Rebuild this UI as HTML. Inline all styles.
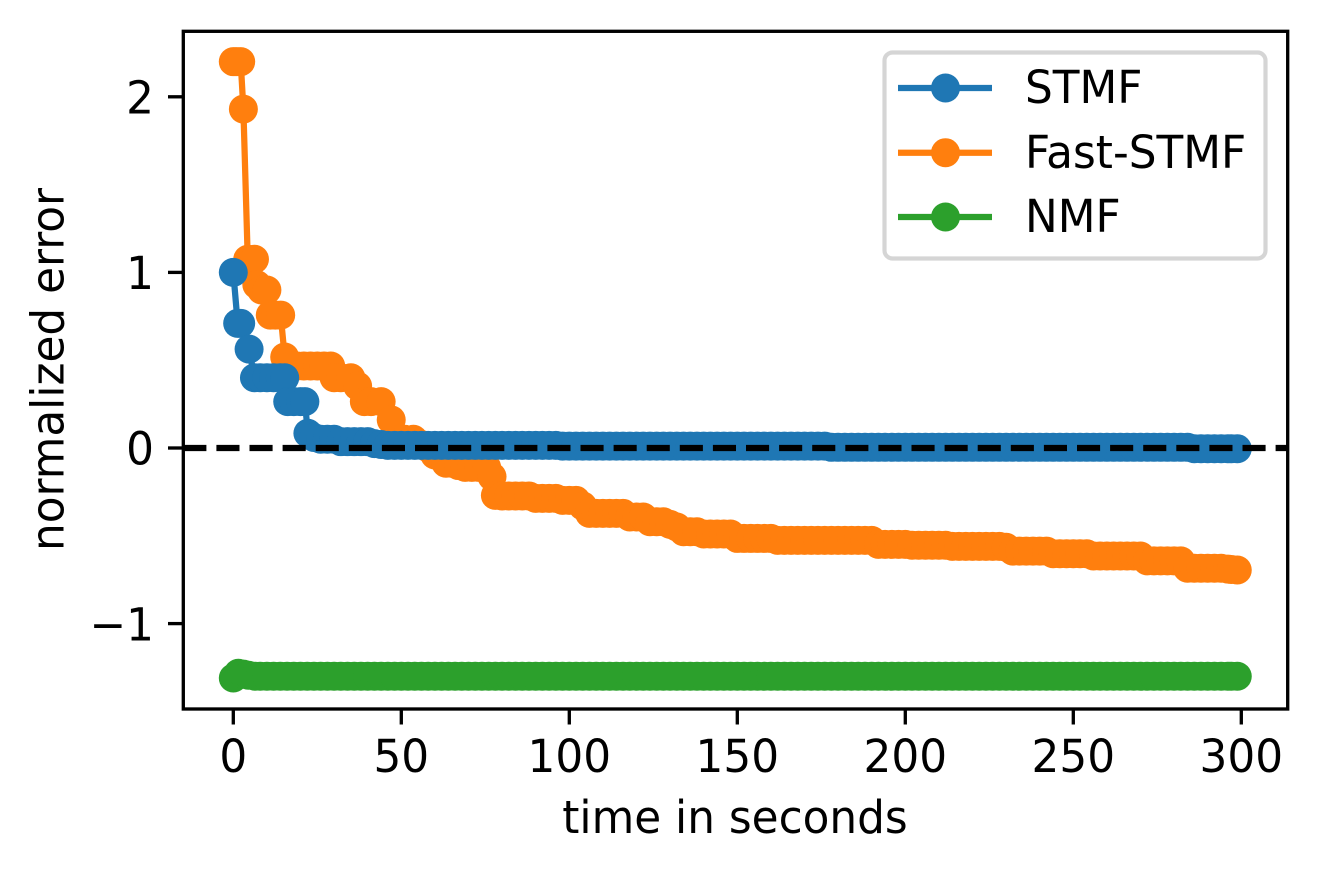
<!DOCTYPE html>
<html>
<head>
<meta charset="utf-8">
<title>Normalized error over time</title>
<style>
html,body{margin:0;padding:0;background:#fff;}
svg{display:block;}
text{font-family:"DejaVu Sans","Liberation Sans",sans-serif;font-size:45.83px;fill:#000;}
</style>
</head>
<body>
<svg id="chart" xmlns="http://www.w3.org/2000/svg" width="1317" height="871" viewBox="0 0 1317 871">
  <rect x="0" y="0" width="1317" height="871" fill="#ffffff"/>
  <g id="series-layer"></g>
  <line id="zero-line" stroke="#000" stroke-width="6.25" stroke-dasharray="23.1 10"/>
  <g id="ticks-layer"></g>
  <rect x="183.3" y="31.3" width="1104.4" height="677.7" fill="none" stroke="#000" stroke-width="3.33"/>
  <text x="735" y="833" text-anchor="middle">time in seconds</text>
  <text transform="translate(63.3 369.5) rotate(-90)" text-anchor="middle">normalized error</text>
  <g>
    <rect x="884.5" y="52.5" width="381" height="206" rx="8" ry="8" fill="#fff" fill-opacity="0.8" stroke="#d5d5d5" stroke-width="4.17"/>
    <g>
      <line x1="898" x2="992" y1="88" y2="88" stroke="#1f77b4" stroke-width="6.25"/>
      <circle cx="945.5" cy="88" r="14.5" fill="#1f77b4"/>
      <text x="1025" y="103">STMF</text>
    </g>
    <g>
      <line x1="898" x2="992" y1="152.7" y2="152.7" stroke="#ff7f0e" stroke-width="6.25"/>
      <circle cx="945.5" cy="152.7" r="14.5" fill="#ff7f0e"/>
      <text x="1025" y="168">Fast-STMF</text>
    </g>
    <g>
      <line x1="898" x2="992" y1="217" y2="217" stroke="#2ca02c" stroke-width="6.25"/>
      <circle cx="945.5" cy="217" r="14.5" fill="#2ca02c"/>
      <text x="1025" y="232">NMF</text>
    </g>
  </g>
</svg>
<script>
var xTicks = [0, 50, 100, 150, 200, 250, 300];
var xTickLabels = ["0", "50", "100", "150", "200", "250", "300"];
var yTicks = [-1, 0, 1, 2];
var yTickLabels = ["\u22121", "0", "1", "2"];
var referenceValue = 0;

var lateTimes = [
  80,82,84,86,88, 90,92,94,96,98, 100,102,104,106,108, 110,112,114,116,118,
  120,122,124,126,128, 130,132,134,136,138, 140,142,144,146,148, 150,152,154,156,158,
  160,162,164,166,168, 170,172,174,176,178, 180,182,184,186,188, 190,192,194,196,198,
  200,202,204,206,208, 210,212,214,216,218, 220,222,224,226,228, 230,232,234,236,238,
  240,242,244,246,248, 250,252,254,256,258, 260,262,264,266,268, 270,272,274,276,278,
  280,282,284,286,288, 290,292,294,296,297, 298.8
];

var fastEarlyTimes = [0,1,2.2,3,4.3,6.3,7,8.4,10,11,12.5,14.1,15.3,17,19,21,23,25,27,29,30,32,35,37,39,41,44,47,49,51,53.6,56,58,60,63.3,65,67,69,71,73,75.4,77,78];
var fastEarlyValues = [2.2,2.2,2.2,1.93,1.075,1.075,0.93,0.9,0.9,0.757,0.757,0.757,0.518,0.467,0.467,0.467,0.467,0.467,0.467,0.467,0.4,0.4,0.4,0.353,0.264,0.264,0.264,0.16,0.05,0.05,0.05,0.02,0,-0.04,-0.087,-0.087,-0.1,-0.11,-0.11,-0.11,-0.11,-0.163,-0.27];
var fastLateValues = [
  -0.273,-0.273,-0.273,-0.273,-0.273, -0.287,-0.287,-0.287,-0.287,-0.298, -0.298,-0.298,-0.33,-0.372,-0.372, -0.372,-0.372,-0.372,-0.372,-0.393,
  -0.393,-0.393,-0.42,-0.42,-0.42, -0.435,-0.45,-0.477,-0.477,-0.477, -0.49,-0.49,-0.49,-0.49,-0.49, -0.515,-0.515,-0.515,-0.515,-0.515,
  -0.515,-0.526,-0.526,-0.526,-0.526, -0.526,-0.526,-0.526,-0.526,-0.526, -0.526,-0.526,-0.526,-0.526,-0.526, -0.526,-0.549,-0.549,-0.549,-0.549,
  -0.549,-0.554,-0.554,-0.554,-0.554, -0.554,-0.554,-0.56,-0.56,-0.56, -0.56,-0.56,-0.56,-0.56,-0.56, -0.565,-0.587,-0.587,-0.587,-0.587,
  -0.587,-0.587,-0.602,-0.602,-0.602, -0.602,-0.602,-0.602,-0.615,-0.615, -0.615,-0.615,-0.615,-0.615,-0.615, -0.615,-0.643,-0.643,-0.643,-0.643,
  -0.643,-0.643,-0.685,-0.685,-0.685, -0.685,-0.685,-0.685,-0.69,-0.692, -0.695
];

var stmfEarlyTimes = [0,1.3,2.2,4.7,6.3,8,10,12,14,15.3,16.2,18,20,21.3,22.2,24,26,28,30,32,34,36,38,40,42,44,46,48,50,52,54,56,58,60,62,64,66,68,70,72,74,76,78];
var stmfEarlyValues = [1,0.71,0.71,0.563,0.4,0.4,0.4,0.4,0.4,0.4,0.264,0.264,0.264,0.264,0.084,0.06,0.05,0.05,0.05,0.036,0.036,0.036,0.036,0.036,0.025,0.02,0.015,0.015,0.015,0.015,0.015,0.015,0.015,0.015,0.015,0.015,0.015,0.015,0.015,0.015,0.015,0.015,0.015];
var stmfLateValues = [
  0.015,0.015,0.015,0.015,0.015, 0.015,0.015,0.015,0.015,0.011, 0.011,0.011,0.011,0.011,0.011, 0.011,0.011,0.011,0.011,0.011,
  0.011,0.011,0.011,0.011,0.011, 0.011,0.011,0.011,0.011,0.011, 0.011,0.011,0.011,0.011,0.011, 0.011,0.011,0.011,0.011,0.011,
  0.011,0.011,0.011,0.011,0.011, 0.011,0.011,0.011,0.011,0.004, 0.004,0.004,0.004,0.004,0.004, 0.004,0.004,0.004,0.004,0.004,
  0.004,0.004,0.004,0.004,0.004, 0.004,0.004,0.004,0.004,0.004, 0.004,0.004,0.004,0.004,0.004, 0.004,0.004,0.004,0.004,0.004,
  0.004,0.004,0.004,0.004,0.004, 0.004,0.004,0.004,0.004,0.004, 0.004,0.004,0.004,0.004,0.004, 0.004,0.004,0.004,0.004,0.004,
  0.004,0.004,0.004,-0.004,-0.004, -0.004,-0.004,-0.004,-0.004,-0.004, -0.004
];

var nmfEarlyTimes = [0,1.5,3,4.5,6.5,8,10,12,14,16,18,20,22,24,26,28,30,32,34,36,38,40,42,44,46,48,50,52,54,56,58,60,62,64,66,68,70,72,74,76,78];
var nmfEarlyValues = [-1.31,-1.283,-1.288,-1.294,-1.3,-1.3,-1.3,-1.3,-1.3,-1.3,-1.3,-1.3,-1.3,-1.3,-1.3,-1.3,-1.3,-1.3,-1.3,-1.3,-1.3,-1.3,-1.3,-1.3,-1.3,-1.3,-1.3,-1.3,-1.3,-1.3,-1.3,-1.3,-1.3,-1.3,-1.3,-1.3,-1.3,-1.3,-1.3,-1.3,-1.3];
var nmfLateValues = [
  -1.3,-1.3,-1.3,-1.3,-1.3, -1.3,-1.3,-1.3,-1.3,-1.3, -1.3,-1.3,-1.3,-1.3,-1.3, -1.3,-1.3,-1.3,-1.3,-1.3,
  -1.3,-1.3,-1.3,-1.3,-1.3, -1.3,-1.3,-1.3,-1.3,-1.3, -1.3,-1.3,-1.3,-1.3,-1.3, -1.3,-1.3,-1.3,-1.3,-1.3,
  -1.3,-1.3,-1.3,-1.3,-1.3, -1.3,-1.3,-1.3,-1.3,-1.3, -1.3,-1.3,-1.3,-1.3,-1.3, -1.3,-1.3,-1.3,-1.3,-1.3,
  -1.3,-1.3,-1.3,-1.3,-1.3, -1.3,-1.3,-1.3,-1.3,-1.3, -1.3,-1.3,-1.3,-1.3,-1.3, -1.3,-1.3,-1.3,-1.3,-1.3,
  -1.3,-1.3,-1.3,-1.3,-1.3, -1.3,-1.3,-1.3,-1.3,-1.3, -1.3,-1.3,-1.3,-1.3,-1.3, -1.3,-1.3,-1.3,-1.3,-1.3,
  -1.3,-1.3,-1.3,-1.3,-1.3, -1.3,-1.3,-1.3,-1.3,-1.3, -1.3
];

var NS = "http://www.w3.org/2000/svg";
function xScale(t) { return 233.3 + t * 3.36; }
function yScale(v) { return 448 - v * 175.6; }

function drawSeries(layer, seriesName, color, times, values) {
  var group = document.createElementNS(NS, "g");
  
  
  var pts = [];
  for (var i = 0; i < times.length; i++) {
    pts.push(xScale(times[i]).toFixed(2) + "," + yScale(values[i]).toFixed(2));
  }
  var line = document.createElementNS(NS, "polyline");
  
  
  line.setAttribute("points", pts.join(" "));
  line.setAttribute("fill", "none");
  line.setAttribute("stroke", color);
  line.setAttribute("stroke-width", "6.25");
  line.setAttribute("stroke-linejoin", "round");
  group.appendChild(line);
  for (var j = 0; j < times.length; j++) {
    var dot = document.createElementNS(NS, "circle");
    
    
    dot.setAttribute("cx", xScale(times[j]).toFixed(2));
    dot.setAttribute("cy", yScale(values[j]).toFixed(2));
    dot.setAttribute("r", "14.5");
    dot.setAttribute("fill", color);
    group.appendChild(dot);
  }
  layer.appendChild(group);
}

function drawTicks(layer) {
  for (var i = 0; i < xTicks.length; i++) {
    var px = xScale(xTicks[i]);
    var tick = document.createElementNS(NS, "line");
    
    
    tick.setAttribute("x1", px); tick.setAttribute("x2", px);
    tick.setAttribute("y1", 709); tick.setAttribute("y2", 724.5);
    tick.setAttribute("stroke", "#000"); tick.setAttribute("stroke-width", "3.33");
    layer.appendChild(tick);
    var label = document.createElementNS(NS, "text");
    
    
    label.setAttribute("x", px); label.setAttribute("y", 772);
    label.setAttribute("text-anchor", "middle");
    label.textContent = xTickLabels[i];
    layer.appendChild(label);
  }
  for (var k = 0; k < yTicks.length; k++) {
    var py = yScale(yTicks[k]);
    var ytick = document.createElementNS(NS, "line");
    
    
    ytick.setAttribute("x1", 168); ytick.setAttribute("x2", 183.3);
    ytick.setAttribute("y1", py); ytick.setAttribute("y2", py);
    ytick.setAttribute("stroke", "#000"); ytick.setAttribute("stroke-width", "3.33");
    layer.appendChild(ytick);
    var ylabel = document.createElementNS(NS, "text");
    
    
    ylabel.setAttribute("x", 154); ylabel.setAttribute("y", py + 16.7);
    ylabel.setAttribute("text-anchor", "end");
    ylabel.textContent = yTickLabels[k];
    layer.appendChild(ylabel);
  }
}

var seriesLayer = document.getElementById("series-layer");
drawSeries(seriesLayer, "nmf", "#2ca02c", nmfEarlyTimes.concat(lateTimes), nmfEarlyValues.concat(nmfLateValues));
drawSeries(seriesLayer, "fast-stmf", "#ff7f0e", fastEarlyTimes.concat(lateTimes), fastEarlyValues.concat(fastLateValues));
drawSeries(seriesLayer, "stmf", "#1f77b4", stmfEarlyTimes.concat(lateTimes), stmfEarlyValues.concat(stmfLateValues));

var zeroLine = document.getElementById("zero-line");
zeroLine.setAttribute("x1", 183.3);
zeroLine.setAttribute("x2", 1287.7);
zeroLine.setAttribute("y1", yScale(referenceValue));
zeroLine.setAttribute("y2", yScale(referenceValue));

drawTicks(document.getElementById("ticks-layer"));

/* The reference's hinted text runs about 4.5% narrower than the natural advance. */
var allText = document.querySelectorAll("svg text");
for (var n = 0; n < allText.length; n++) {
  var natural = allText[n].getComputedTextLength();
  allText[n].setAttribute("textLength", (natural * 0.955).toFixed(2));
  allText[n].setAttribute("lengthAdjust", "spacingAndGlyphs");
}
</script>
</body>
</html>
